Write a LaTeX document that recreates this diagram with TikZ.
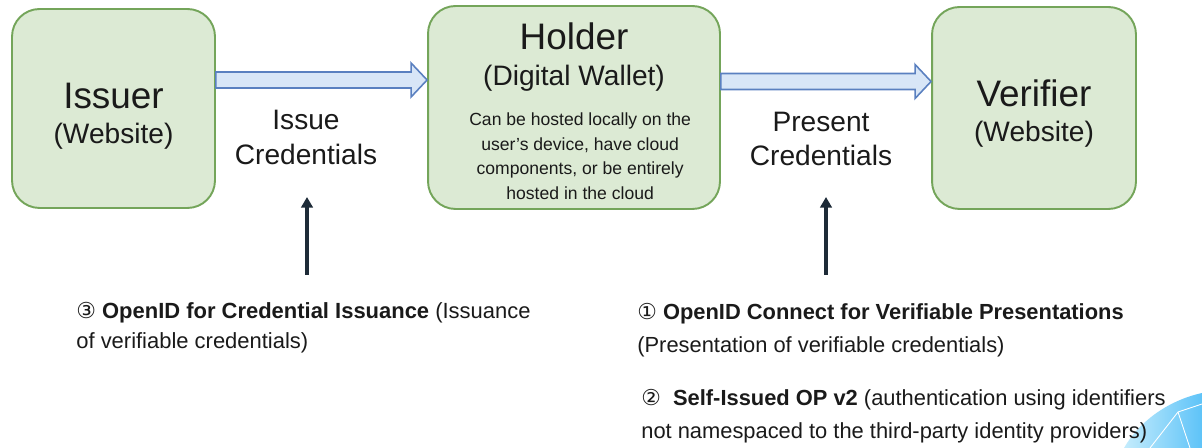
\documentclass[tikz,border=0pt]{standalone}
\usepackage{fontspec}
\setmainfont{Liberation Sans}
\newfontfamily\circfont{DejaVu Sans}
\usetikzlibrary{calc, arrows.meta}
\definecolor{partyfill}{HTML}{DCEAD4}
\definecolor{partydraw}{HTML}{74A55A}
\definecolor{flowfill}{HTML}{D8E6F7}
\definecolor{flowdraw}{HTML}{5A80C0}
\definecolor{coldark}{HTML}{1E2B38}
\definecolor{coltext}{HTML}{1A1A1A}
\definecolor{cornerlo}{HTML}{C4ECFC}
\definecolor{cornerhi}{HTML}{5EC3F8}

% wide outlined arrow between two boxes at a given height
\newcommand{\fatarrow}[3]{%
  \draw[fatarr] ($(#1.east |- #3)+(0,-8)$) -- ($(#2.west |- #3)+(-16,-8)$)
    -- ($(#2.west |- #3)+(-16,-17)$) -- (#2.west |- #3)
    -- ($(#2.west |- #3)+(-16,17)$) -- ($(#2.west |- #3)+(-16,8)$)
    -- ($(#1.east |- #3)+(0,8)$) -- cycle;}
\newcommand{\bigline}[2]{\rule{0pt}{#1}{\fontsize{21}{25}\selectfont #2}}
\newcommand{\midline}[1]{{\fontsize{16}{20}\selectfont #1}}

\begin{document}
\begin{tikzpicture}[
  x=0.02cm, y=-0.02cm,
  party/.style={rectangle, rounded corners=0.55cm, draw=partydraw, fill=partyfill,
                line width=1.1pt, align=center, text=coltext},
  flowlbl/.style={align=center, text=coltext, font=\fontsize{16}{19.8}\selectfont},
  note/.style={align=left, text=coltext, anchor=north west, inner sep=0pt},
  fatarr/.style={draw=flowdraw, fill=flowfill, line width=0.9pt, line join=miter},
  uparr/.style={-{Triangle[length=6pt, width=6.5pt]}, coldark, line width=1.9pt}
]
\useasboundingbox (0,0) rectangle (1202,448);

% Parties
\node[party, minimum width=4.06cm, minimum height=3.98cm] (issuer) at (113.5,108.5)
    {\bigline{23pt}{Issuer}\\[8pt] \midline{(Website)}};
\node[party, minimum width=5.84cm, minimum height=4.06cm,
      font=\fontsize{10}{14}\selectfont] (holder) at (574,107.5)
    {\bigline{19.5pt}{Holder}\\[6.5pt]
     \midline{(Digital Wallet)}\\[8.5pt]
     \hspace*{7pt}Can be hosted locally on the\\
     \hspace*{7pt}user's device, have cloud\\
     \hspace*{7pt}components, or be entirely\\
     \hspace*{7pt}hosted in the cloud};
\node[party, minimum width=4.08cm, minimum height=4.04cm] (verifier) at (1034,108)
    {\bigline{22pt}{Verifier}\\[8pt] \midline{(Website)}};

% Flows
\coordinate (issy) at (0,80);
\coordinate (presy) at (0,81.5);
\fatarrow{issuer}{holder}{issy}
\fatarrow{holder}{verifier}{presy}

\node[flowlbl] (isslbl) at (306,137.5) {Issue\\Credentials};
\node[flowlbl] (preslbl) at (821,139) {Present\\Credentials};

% corner graphic
\shade[left color=cornerlo, right color=cornerhi]
  (1202,393) .. controls (1170,400) and (1140,420) .. (1124,448) -- (1202,448) -- cycle;
\draw[white, line width=0.5pt] (1150,448) -- (1178,412) -- (1202,404);
\draw[white, line width=0.5pt] (1178,412) -- (1190,448);

% Protocols
\node[note, font=\fontsize{12.5}{17.2}\selectfont] (oid4vci) at (76,302)
    {{\circfont ③} \textbf{OpenID for Credential Issuance} (Issuance\\
     of verifiable credentials)};
\node[note, font=\fontsize{12.45}{19}\selectfont] (oidc4vp) at (637,303)
    {{\circfont ①} \textbf{OpenID Connect for Verifiable Presentations}\\
     (Presentation of verifiable credentials)};
\node[note, font=\fontsize{12.45}{18.6}\selectfont] (siop) at (641,389)
    {{\circfont ②}\ \ \textbf{Self-Issued OP v2} (authentication using identifiers\\
     not namespaced to the third-party identity providers)};

\coordinate (issfrom) at (307,275);
\coordinate (issto) at (307,197);
\coordinate (presfrom) at (826,275);
\coordinate (presto) at (826,197);
\draw[uparr] (issfrom) -- (issto);
\draw[uparr] (presfrom) -- (presto);
\end{tikzpicture}
\end{document}
